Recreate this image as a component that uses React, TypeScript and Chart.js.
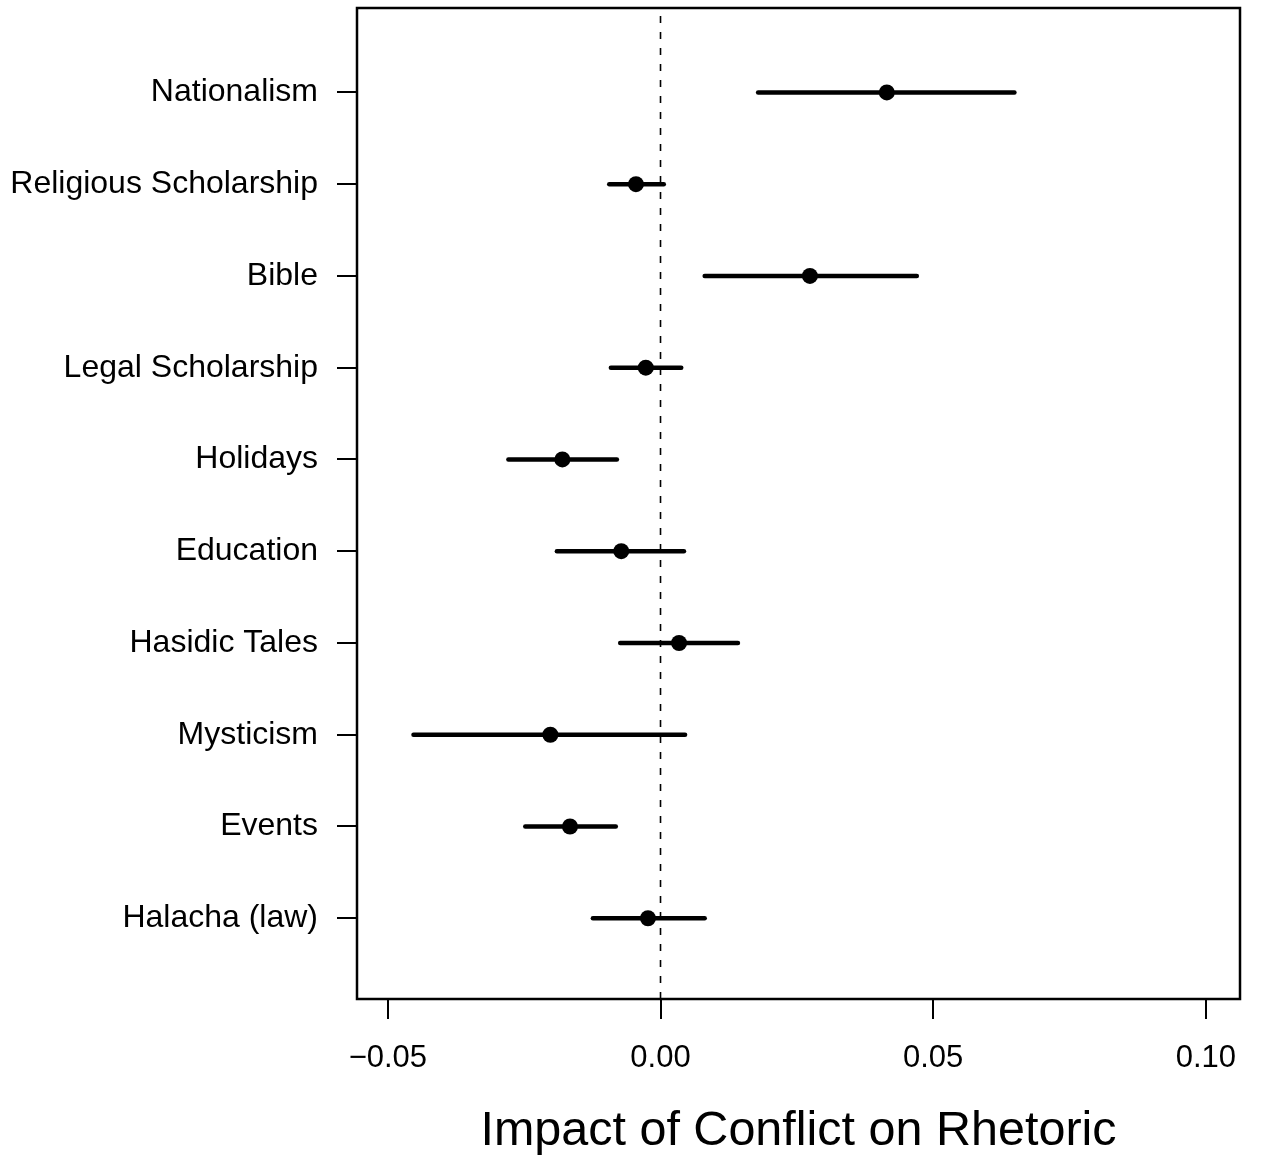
import React, { useEffect, useRef } from "react";
import { Chart, registerables } from "chart.js";

Chart.register(...registerables);

// Rhetoric categories, top to bottom
const categories = [
  "Nationalism",
  "Religious Scholarship",
  "Bible",
  "Legal Scholarship",
  "Holidays",
  "Education",
  "Hasidic Tales",
  "Mysticism",
  "Events",
  "Halacha (law)",
];

// Point estimates and interval bounds
const estimates = [0.0415, -0.0045, 0.0274, -0.0027, -0.018, -0.0072, 0.0034, -0.0202, -0.0166, -0.0023];
const lowerBounds = [0.0179, -0.0094, 0.0081, -0.0091, -0.0279, -0.019, -0.0074, -0.0453, -0.0248, -0.0124];
const upperBounds = [0.0649, 0.0006, 0.047, 0.0038, -0.008, 0.0043, 0.0142, 0.0045, -0.0082, 0.0081];

const xTickValues = [-0.05, 0, 0.05, 0.1];
const xTickLabels = ["\u22120.05", "0.00", "0.05", "0.10"];
const xAxisTitle = "Impact of Conflict on Rhetoric";

const FONT = "'Liberation Sans', Arial, Helvetica, sans-serif";

const boxPlugin = {
  id: "plotBox",
  afterDraw(chart: any) {
    const { ctx, chartArea } = chart;
    ctx.save();
    ctx.strokeStyle = "#000";
    ctx.lineWidth = 2.5;
    ctx.strokeRect(chartArea.left, chartArea.top, chartArea.right - chartArea.left, chartArea.bottom - chartArea.top);
    ctx.restore();
  },
};

export default function App() {
  const canvasRef = useRef<HTMLCanvasElement | null>(null);

  useEffect(() => {
    if (!canvasRef.current) return;
    const n = categories.length;
    const rowY = (i: number) => n - i;
    const yMin = 0.12;
    const yMax = 10.92;

    const pointData = estimates.map((v, i) => ({ x: v, y: rowY(i) }));
    const intervalSets = categories.map((c, i) => ({
      label: c,
      data: [
        { x: lowerBounds[i], y: rowY(i) },
        { x: upperBounds[i], y: rowY(i) },
      ],
      showLine: true,
      borderColor: "#000",
      borderWidth: 4.5,
      borderCapStyle: "round",
      pointRadius: 0,
      pointHoverRadius: 0,
    }));

    const chart = new Chart(canvasRef.current, {
      type: "scatter",
      data: {
        datasets: [
          {
            label: "estimate",
            data: pointData,
            backgroundColor: "#000",
            borderWidth: 0,
            pointRadius: 8,
            pointHoverRadius: 8,
          } as any,
          ...(intervalSets as any[]),
          {
            label: "zero",
            data: [
              { x: 0, y: yMin },
              { x: 0, y: yMax },
            ],
            showLine: true,
            borderColor: "#000",
            borderWidth: 1.6,
            borderDash: [7, 9],
            pointRadius: 0,
            pointHoverRadius: 0,
          } as any,
        ],
      },
      options: {
        animation: false,
        responsive: false,
        events: [],
        layout: { padding: { top: 8, right: 21, left: 0, bottom: 0 } },
        plugins: {
          legend: { display: false },
          tooltip: { enabled: false },
          title: { display: false },
        },
        scales: {
          x: {
            type: "linear",
            min: -0.05566,
            max: 0.10627,
            afterBuildTicks: (scale: any) => {
              scale.ticks = xTickValues.map((v) => ({ value: v }));
            },
            afterFit: (scale: any) => {
              scale.height = 162;
              scale.paddingLeft = 0;
              scale.paddingRight = 0;
            },
            ticks: {
              color: "#000",
              font: { family: FONT, size: 31 },
              padding: 21,
              maxRotation: 0,
              autoSkip: false,
              callback: (value: any) => {
                const idx = xTickValues.findIndex((t) => Math.abs(t - Number(value)) < 1e-9);
                return idx >= 0 ? xTickLabels[idx] : "";
              },
            },
            grid: {
              drawOnChartArea: false,
              drawTicks: true,
              tickLength: 20,
              color: "#000",
              lineWidth: 2,
            },
            border: { display: false },
            title: {
              display: true,
              text: xAxisTitle,
              color: "#000",
              font: { family: FONT, size: 48.5 },
              padding: { top: 0, bottom: 0 },
            },
          },
          y: {
            type: "linear",
            min: yMin,
            max: yMax,
            afterBuildTicks: (scale: any) => {
              scale.ticks = categories.map((_, i) => ({ value: rowY(i) }));
            },
            afterFit: (scale: any) => {
              scale.width = 357;
              scale.paddingTop = 0;
              scale.paddingBottom = 0;
            },
            ticks: {
              color: "#000",
              font: { family: FONT, size: 32 },
              padding: 19,
              autoSkip: false,
              callback: (value: any) => {
                const i = n - Math.round(Number(value));
                return categories[i] ?? "";
              },
            },
            grid: {
              drawOnChartArea: false,
              drawTicks: true,
              tickLength: 20,
              color: "#000",
              lineWidth: 2,
            },
            border: { display: false },
          },
        },
      } as any,
      plugins: [boxPlugin],
    });

    return () => chart.destroy();
  }, []);

  return (
    <div style={{ position: "absolute", left: 0, top: 0, width: 1261, height: 1161, background: "#fff" }}>
      <canvas ref={canvasRef} width={1261} height={1161} />
    </div>
  );
}
